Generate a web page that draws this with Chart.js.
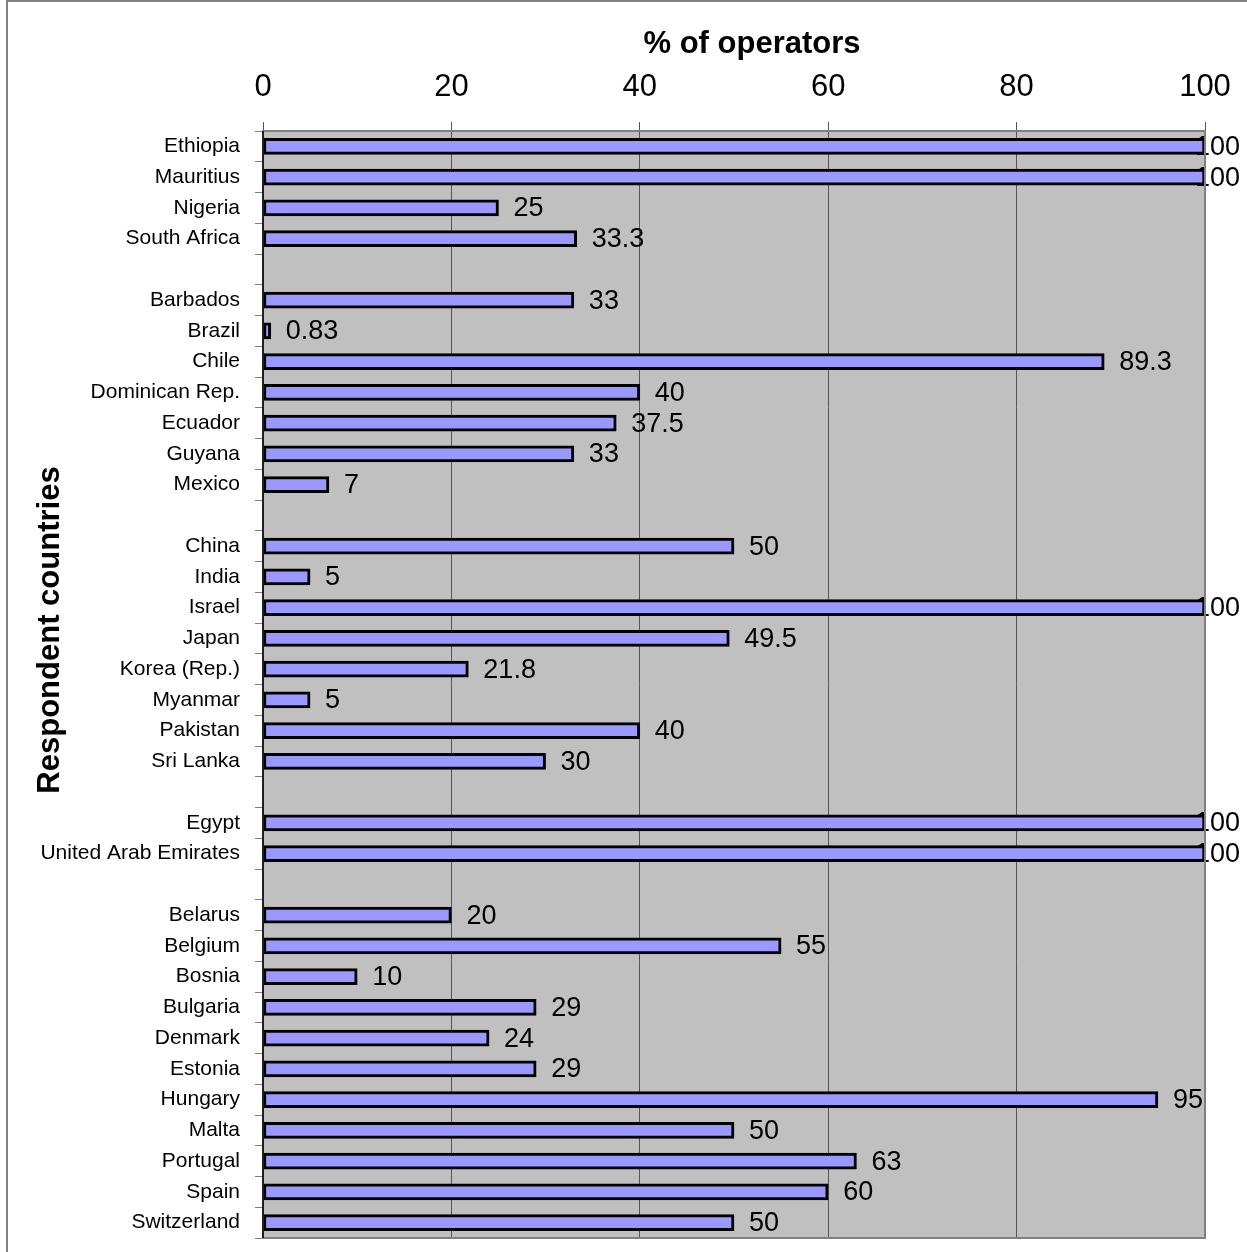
<!DOCTYPE html>
<html>
<head>
<meta charset="utf-8">
<script src="https://cdn.jsdelivr.net/npm/chart.js@4"></script>
<style>
  body { margin: 0; background: #fff; }
  #wrap { width: 1247px; height: 1252px; }
</style>
</head>
<body>
<div id="wrap"><canvas id="chart" width="1247" height="1252"></canvas></div>
<script>
// countries, with empty rows separating the regional groups
const countries = [
  'Ethiopia', 'Mauritius', 'Nigeria', 'South Africa', '',
  'Barbados', 'Brazil', 'Chile', 'Dominican Rep.', 'Ecuador', 'Guyana', 'Mexico', '',
  'China', 'India', 'Israel', 'Japan', 'Korea (Rep.)', 'Myanmar', 'Pakistan', 'Sri Lanka', '',
  'Egypt', 'United Arab Emirates', '',
  'Belarus', 'Belgium', 'Bosnia', 'Bulgaria', 'Denmark', 'Estonia', 'Hungary', 'Malta',
  'Portugal', 'Spain', 'Switzerland'
];

const percentOperators = [
  100, 100, 25, 33.3, null,
  33, 0.83, 89.3, 40, 37.5, 33, 7, null,
  50, 5, 100, 49.5, 21.8, 5, 40, 30, null,
  100, 100, null,
  20, 55, 10, 29, 24, 29, 95, 50,
  63, 60, 50
];

const xTicks = [0, 20, 40, 60, 80, 100];

// background of the plot + outer frame
const frame = {
  id: 'frame',
  beforeDraw(chart) {
    const { ctx, chartArea: a } = chart;
    ctx.save();
    ctx.strokeStyle = '#808080';
    ctx.lineWidth = 2;
    ctx.beginPath();
    ctx.moveTo(7, chart.height + 5);
    ctx.lineTo(7, 1);
    ctx.lineTo(chart.width + 5, 1);
    ctx.stroke();
    ctx.fillStyle = '#c0c0c0';
    ctx.fillRect(a.left, a.top, a.right - a.left, a.bottom - a.top);
    ctx.restore();
  },
  afterDatasetsDraw(chart) {
    const { ctx, chartArea: a } = chart;
    ctx.save();
    ctx.strokeStyle = '#808080';
    ctx.lineWidth = 2;
    ctx.strokeRect(a.left, a.top, a.right - a.left, a.bottom - a.top);
    ctx.strokeStyle = '#000';
    ctx.lineWidth = 1.5;
    ctx.beginPath();
    ctx.moveTo(a.left, a.top);
    ctx.lineTo(a.left, a.bottom);
    ctx.stroke();
    ctx.restore();
  }
};

// value labels, drawn under the bars (the bars hide the "1" of 100 like in the original)
const valueLabels = {
  id: 'valueLabels',
  beforeDatasetsDraw(chart) {
    const { ctx } = chart;
    const meta = chart.getDatasetMeta(0);
    ctx.save();
    ctx.font = '27px "Liberation Sans", Arial, sans-serif';
    ctx.fillStyle = '#000';
    ctx.textBaseline = 'middle';
    meta.data.forEach((bar, i) => {
      const v = percentOperators[i];
      if (v === null) return;
      const txt = String(v);
      const w = ctx.measureText(txt).width;
      let x = bar.x + 15;
      if (x + w > chart.width - 7) x = chart.width - 7 - w;
      ctx.fillText(txt, x, bar.y + 1);
    });
    ctx.restore();
  }
};

// axis titles
const titles = {
  id: 'titles',
  afterDraw(chart) {
    const { ctx } = chart;
    ctx.save();
    ctx.fillStyle = '#000';
    ctx.font = 'bold 31px "Liberation Sans", Arial, sans-serif';
    ctx.textAlign = 'center';
    ctx.textBaseline = 'middle';
    ctx.fillText('% of operators', 752, 44);
    ctx.translate(50, 630);
    ctx.rotate(-Math.PI / 2);
    ctx.fillText('Respondent countries', 0, 0);
    ctx.restore();
  }
};

new Chart(document.getElementById('chart'), {
  type: 'bar',
  data: {
    labels: countries,
    datasets: [{
      data: percentOperators,
      backgroundColor: '#9999ff',
      borderColor: '#000',
      borderWidth: 3,
      borderSkipped: false,
      barThickness: 16
    }]
  },
  options: {
    indexAxis: 'y',
    responsive: false,
    animation: false,
    layout: { padding: { left: 0, top: 0, right: 42, bottom: 14 } },
    plugins: {
      legend: { display: false },
      tooltip: { enabled: false }
    },
    scales: {
      x: {
        position: 'top',
        min: 0,
        max: 100,
        afterBuildTicks: (s) => { s.ticks = xTicks.map(v => ({ value: v })); },
        afterFit: (s) => { s.height = 131; s.paddingLeft = 0; s.paddingRight = 0; },
        ticks: {
          color: '#000',
          padding: 16,
          font: { family: '"Liberation Sans", Arial, sans-serif', size: 31 }
        },
        grid: { color: '#555', lineWidth: 1, tickLength: 9 },
        border: { display: false }
      },
      y: {
        afterFit: (s) => { s.width = 263; s.paddingTop = 0; s.paddingBottom = 0; },
        ticks: {
          color: '#000',
          padding: 15,
          autoSkip: false,
          font: { family: '"Liberation Sans", Arial, sans-serif', size: 21 }
        },
        grid: { drawOnChartArea: false, color: '#808080', tickLength: 8, offset: true },
        border: { display: false }
      }
    }
  },
  plugins: [frame, valueLabels, titles]
});
</script>
</body>
</html>
